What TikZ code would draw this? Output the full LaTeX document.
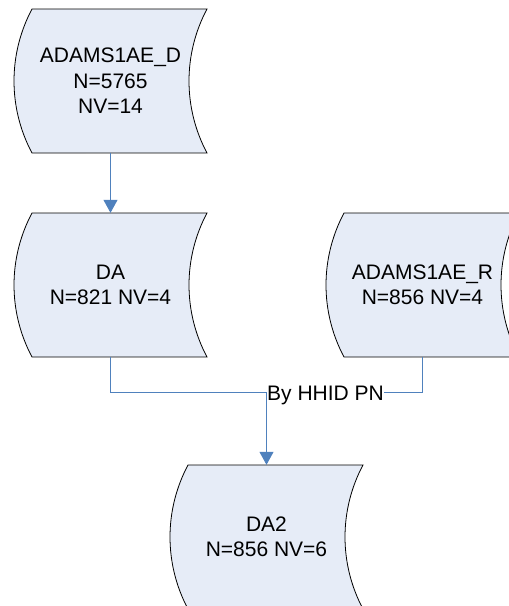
\documentclass[tikz,border=0pt]{standalone}
\usepackage{fontspec}
\setmainfont{Liberation Sans}
\usetikzlibrary{arrows.meta,calc}
\definecolor{sdfill}{HTML}{E6ECF7}
\definecolor{conn}{HTML}{4F81BD}
\tikzset{
  sdline/.style={draw=black, line width=0.8pt, fill=sdfill},
  sdtext/.style={rectangle, minimum width=193pt, minimum height=144pt, inner sep=0pt, align=center, font=\fontsize{21}{25.5}\selectfont},
  connline/.style={draw=conn, line width=1pt},
  connarrow/.style={connline, -{Triangle[length=13pt,width=14pt]}},
  lbl/.style={font=\fontsize{21}{25}\selectfont, inner sep=0pt, fill=white}
}
\newcommand{\sdbox}[2]{%
  \filldraw[sdline] (#1-78.5,#2+72) -- (#1+96.5,#2+72)
    arc[start angle=151.93, end angle=208.07, radius=153]
    -- (#1-78.5,#2-72)
    arc[start angle=208.07, end angle=151.93, radius=153] -- cycle;}
\begin{document}
\begin{tikzpicture}[x=1pt,y=1pt]
\useasboundingbox (0,0) rectangle (509,-606);
\begin{scope}
\clip (0,0) rectangle (509,-606);
\sdbox{110.5}{-81}
\sdbox{110.5}{-285}
\sdbox{422.5}{-285}
\sdbox{266.5}{-537}
\end{scope}
\node[sdtext] (d) at (110.5,-81) {ADAMS1AE\_D\\N=5765\\NV=14};
\node[sdtext] (da) at (110.5,-285) {DA\\N=821 NV=4};
\node[sdtext] (r) at (422.5,-285) {ADAMS1AE\_R\\N=856 NV=4};
\node[sdtext] (da2) at (266.5,-537) {DA2\\N=856 NV=6};
\coordinate (j) at (266.5,-392.7);
\draw[connarrow] (d.south) -- (da.north);
\draw[connline] (da.south) |- (j);
\draw[connarrow] (j) -- (da2.north);
\node[lbl, anchor=base west] (by) at ($(j)+(0.5,-7.5)$) {By HHID PN};
\draw[connline] (r.south) |- (by.east |- j);
\end{tikzpicture}
\end{document}
